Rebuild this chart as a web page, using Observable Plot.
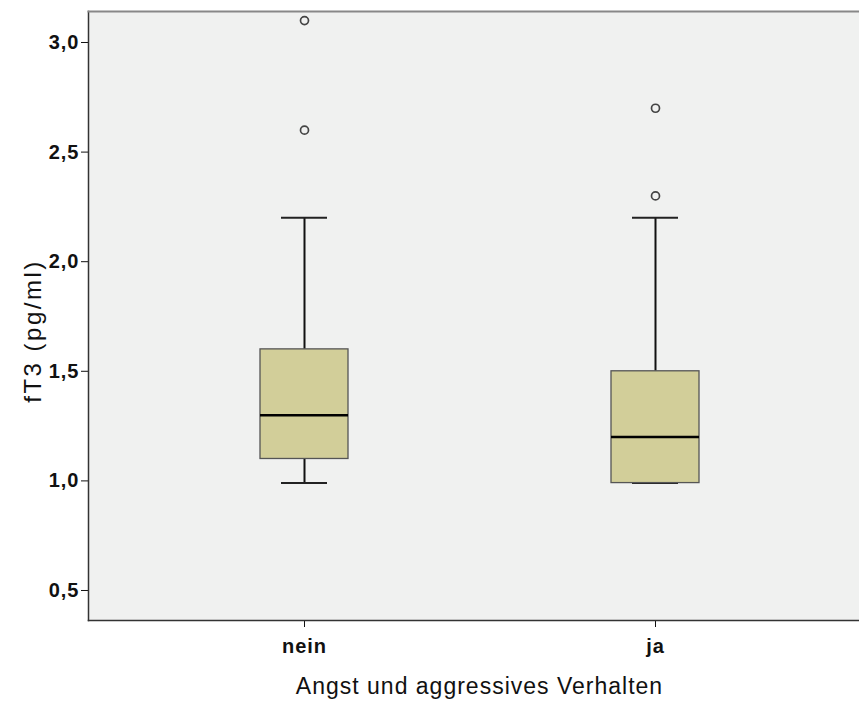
<!DOCTYPE html>
<html>
<head>
<meta charset="utf-8">
<script src="https://cdn.jsdelivr.net/npm/d3@7"></script>
<script src="https://cdn.jsdelivr.net/npm/@observablehq/plot@0.6"></script>
<style>
  html, body { margin: 0; padding: 0; background: #ffffff; overflow: hidden; }
  #chart { width: 859px; height: 702px; overflow: hidden; }
  #chart svg { max-width: none !important; width: 870px !important; height: 702px !important; font-family: "Liberation Sans", Arial, sans-serif; }
  #chart g[aria-label="x-axis tick label"] text,
  #chart g[aria-label="y-axis tick label"] text { letter-spacing: 1px; }
  #chart g[aria-description="x-title"] text { letter-spacing: 1px; }
  #chart g[aria-description="y-title"] text { letter-spacing: 2.5px; }
</style>
</head>
<body>
<div id="chart"></div>
<script>
// Categories and box statistics
const groups   = ["nein", "ja"];
const whiskLo  = [0.99, 0.99];
const q1       = [1.1, 0.99];
const medians  = [1.3, 1.2];
const q3       = [1.6, 1.5];
const whiskHi  = [2.2, 2.2];
// Outliers
const outlierGroup = ["nein", "nein", "ja", "ja"];
const outlierValue = [3.1, 2.6, 2.7, 2.3];
// Axis ticks
const yTicks = [0.5, 1.0, 1.5, 2.0, 2.5, 3.0];
const xTitle = "Angst und aggressives Verhalten";
const yTitle = "fT3 (pg/ml)";

const boxes = groups.map((g, i) => ({
  g, lo: whiskLo[i], q1: q1[i], med: medians[i], q3: q3[i], hi: whiskHi[i]
}));
const outliers = outlierGroup.map((g, i) => ({ g, v: outlierValue[i] }));

const fmt = d => d3.format(".1f")(d).replace(".", ",");

const chart = Plot.plot({
  width: 870,
  height: 702,
  marginLeft: 88,
  marginRight: 0,
  marginTop: 11,
  marginBottom: 82,
  style: { background: "#ffffff", fontFamily: "'Liberation Sans', Arial, sans-serif" },
  x: {
    type: "band",
    domain: groups,
    paddingInner: 0.75,
    paddingOuter: 0.486,
    label: null
  },
  y: {
    domain: [0.3631, 3.1414],
    label: null
  },
  marks: [
    Plot.frame({ fill: "#f0f1f0", stroke: null }),
    // whiskers
    Plot.ruleX(boxes, { x: "g", y1: "lo", y2: "q1", stroke: "#111", strokeWidth: 2 }),
    Plot.ruleX(boxes, { x: "g", y1: "q3", y2: "hi", stroke: "#111", strokeWidth: 2 }),
    Plot.tickY(boxes, { x: "g", y: "lo", stroke: "#222", strokeWidth: 2, insetLeft: 21, insetRight: 21 }),
    Plot.tickY(boxes, { x: "g", y: "hi", stroke: "#222", strokeWidth: 2, insetLeft: 21, insetRight: 21 }),
    // boxes
    Plot.barY(boxes, { x: "g", y1: "q1", y2: "q3", fill: "#d2ce99", stroke: "#555", strokeWidth: 1.3 }),
    Plot.tickY(boxes, { x: "g", y: "med", stroke: "#000", strokeWidth: 2.5 }),
    // outliers
    Plot.dot(outliers, { x: "g", y: "v", r: 4, stroke: "#444", strokeWidth: 1.7, fill: "#f0f1f0" }),
    // axes
    Plot.axisY({
      ticks: yTicks, tickFormat: fmt, tickSize: 7, tickPadding: 2,
      fontSize: 20, fontWeight: "bold", fill: "#111", stroke: "#111", label: null
    }),
    Plot.axisX({
      tickSize: 7, tickPadding: 11,
      fontSize: 20, fontWeight: "bold", fill: "#111", stroke: "#111", label: null
    }),
    Plot.text([yTitle], {
      frameAnchor: "left", rotate: -90, dx: -55, dy: 15, textAnchor: "middle",
      fontSize: 24, fill: "#111", text: d => d, ariaDescription: "y-title"
    }),
    Plot.text([xTitle], {
      frameAnchor: "bottom", dy: 73, textAnchor: "middle",
      fontSize: 23, fill: "#111", text: d => d, ariaDescription: "x-title"
    }),
    // frame lines: left & bottom dark, top gray
    Plot.frame({ anchor: "left", stroke: "#333", strokeWidth: 1.5 }),
    Plot.frame({ anchor: "bottom", stroke: "#333", strokeWidth: 1.5 }),
    Plot.frame({ anchor: "top", stroke: "#888", strokeWidth: 2 })
  ]
});

document.getElementById("chart").appendChild(chart);
</script>
</body>
</html>
